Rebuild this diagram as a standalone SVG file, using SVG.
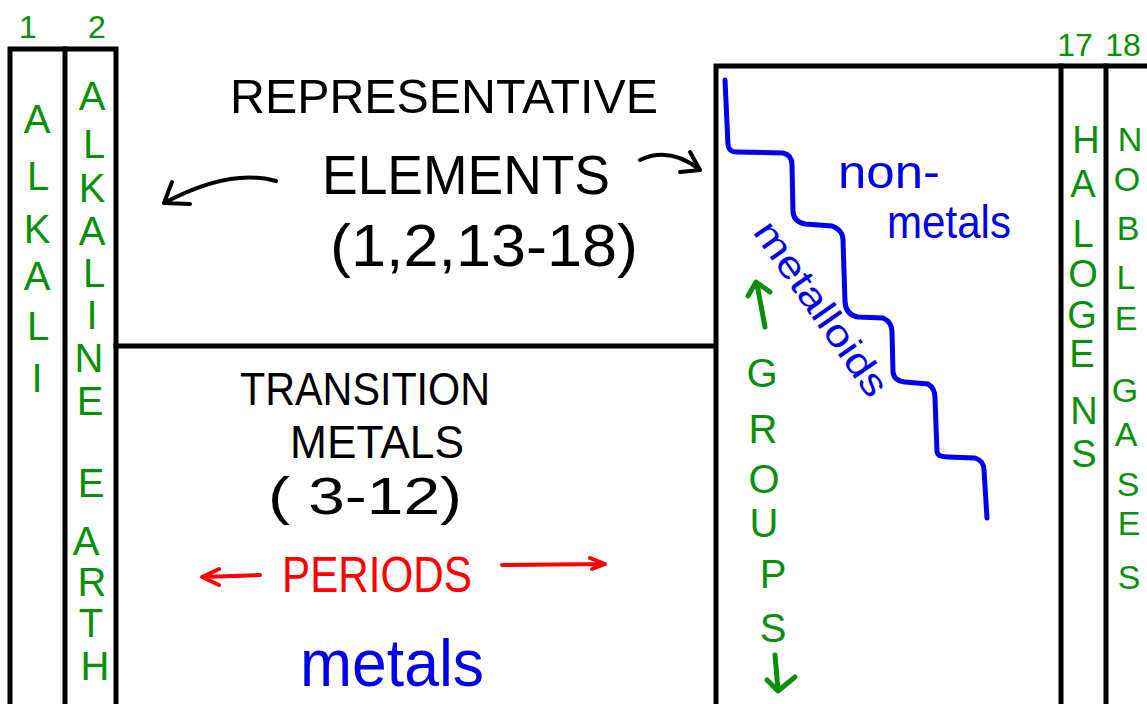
<svg xmlns="http://www.w3.org/2000/svg" width="1147" height="704" viewBox="0 0 1147 704">
<style>
.frame{fill:none;stroke:#000;stroke-width:5;stroke-linecap:square}
.t{font-family:"Liberation Sans",Arial,sans-serif}
.blk{fill:#000}
.grn{fill:#0a8f0a}
.blu{fill:#0000ee}
.red{fill:#ff0000}
.col{font-size:40px;text-anchor:middle}
.ga{fill:none;stroke:#0a8f0a;stroke-width:5;stroke-linecap:round;stroke-linejoin:round}
.ba{fill:none;stroke:#000;stroke-width:4;stroke-linecap:round;stroke-linejoin:round}
.ra{fill:none;stroke:#ff0000;stroke-width:4;stroke-linecap:round;stroke-linejoin:round}
.bl{fill:none;stroke:#0000ee;stroke-width:5;stroke-linecap:round;stroke-linejoin:round}
</style>
<rect width="1147" height="704" fill="#fff"/>

<g id="frame">
<path class="frame" d="M10,706 L10,49 L116,49 L116,706"/>
<path class="frame" d="M65,49 L65,706"/>
<path class="frame" d="M116,346 L714,346"/>
<path class="frame" d="M716,706 L716,66 L1150,66"/>
<path class="frame" d="M1061,66 L1061,706"/>
<path class="frame" d="M1106,66 L1106,706"/>
</g>

<g id="group-numbers" class="t grn" font-size="32">
<text x="28" y="38" text-anchor="middle">1</text>
<text x="97" y="38" text-anchor="middle">2</text>
<text x="1075" y="56" text-anchor="middle">17</text>
<text x="1123" y="56" text-anchor="middle">18</text>
</g>

<g id="alkali">
<text class="t grn col"><tspan x="37" y="133">A</tspan><tspan x="38" y="190">L</tspan><tspan x="37" y="243">K</tspan><tspan x="37" y="290">A</tspan><tspan x="38" y="340">L</tspan><tspan x="37" y="392">I</tspan></text>
</g>

<g id="alkaline-earth">
<text class="t grn col"><tspan x="92" y="110">A</tspan><tspan x="94" y="158">L</tspan><tspan x="92" y="202">K</tspan><tspan x="92" y="245">A</tspan><tspan x="94" y="287">L</tspan><tspan x="92" y="329">I</tspan><tspan x="89" y="372">N</tspan><tspan x="90" y="415">E</tspan><tspan x="91" y="497">E</tspan><tspan x="86" y="555">A</tspan><tspan x="92" y="596">R</tspan><tspan x="91" y="637">T</tspan><tspan x="95" y="680">H</tspan></text>
</g>

<g id="halogens">
<text class="t grn" font-size="38" text-anchor="middle"><tspan x="1086" y="153">H</tspan><tspan x="1083" y="197">A</tspan><tspan x="1083" y="247">L</tspan><tspan x="1083" y="287">O</tspan><tspan x="1082" y="328">G</tspan><tspan x="1082" y="367">E</tspan><tspan x="1084" y="424">N</tspan><tspan x="1084" y="467">S</tspan></text>
</g>

<g id="noble-gases">
<text class="t grn" font-size="34" text-anchor="middle"><tspan x="1130" y="151">N</tspan><tspan x="1127" y="191">O</tspan><tspan x="1128" y="240">B</tspan><tspan x="1126" y="289">L</tspan><tspan x="1126" y="330">E</tspan><tspan x="1125" y="402">G</tspan><tspan x="1126" y="446">A</tspan><tspan x="1128" y="496">S</tspan><tspan x="1129" y="535">E</tspan><tspan x="1129" y="589">S</tspan></text>
</g>

<g id="groups">
<text class="t grn col"><tspan x="762" y="387">G</tspan><tspan x="763" y="443">R</tspan><tspan x="764" y="493">O</tspan><tspan x="764" y="537">U</tspan><tspan x="773" y="588">P</tspan><tspan x="773" y="642">S</tspan></text>
<path class="ga" d="M765,327 L757,284 M748,296 L756,282 L770,292"/>
<path class="ga" d="M775,655 L778,690 M767,680 L778,691 L795,677"/>
</g>

<g id="representative">
<text class="t blk" x="230" y="113" font-size="48" textLength="428" lengthAdjust="spacingAndGlyphs">REPRESENTATIVE</text>
<text class="t blk" x="322" y="194" font-size="56" textLength="288" lengthAdjust="spacingAndGlyphs">ELEMENTS</text>
<text class="t blk" x="330" y="266" font-size="60" textLength="308" lengthAdjust="spacingAndGlyphs">(1,2,13-18)</text>
</g>

<g id="transition">
<text class="t blk" x="240" y="405" font-size="46" textLength="250" lengthAdjust="spacingAndGlyphs">TRANSITION</text>
<text class="t blk" x="290" y="458" font-size="46" textLength="174" lengthAdjust="spacingAndGlyphs">METALS</text>
<text class="t blk" x="268" y="514" font-size="52" textLength="194" lengthAdjust="spacingAndGlyphs">( 3-12)</text>
</g>

<g id="periods">
<text class="t red" x="282" y="592" font-size="50" textLength="190" lengthAdjust="spacingAndGlyphs">PERIODS</text>
</g>

<g id="metals">
<text class="t blu" x="300" y="686" font-size="66" textLength="184" lengthAdjust="spacingAndGlyphs">metals</text>
</g>

<g id="nonmetals">
<text class="t blu" x="838" y="188" font-size="46" textLength="102" lengthAdjust="spacingAndGlyphs">non-</text>
<text class="t blu" x="887" y="238" font-size="46" textLength="124" lengthAdjust="spacingAndGlyphs">metals</text>
</g>

<g id="metalloids">
<text class="t blu" x="0" y="0" font-size="38" textLength="205" lengthAdjust="spacingAndGlyphs" transform="translate(752,232) rotate(55)">metalloids</text>
</g>

<g id="connectors">
<path class="bl" d="M725,80 L728,145 Q729,152 736,152 L783,153 Q792,155 792,165 L793,212 Q794,222 805,224 L832,226 Q843,230 843,240 L845,302 Q846,315 858,317 L883,318 Q892,322 892,332 L893,372 Q894,381 905,382 L928,384 Q935,388 935,398 L937,452 Q938,457 948,457 L975,458 Q984,461 984,470 L987,518"/>
<path class="ba" d="M276,181 Q230,168 164,203 M172,182 L164,203 L190,204"/>
<path class="ba" d="M640,160 Q670,146 700,170 M690,152 L700,170 L680,172"/>
<path class="ra" d="M260,575 L203,577 M219,569 L202,577 L219,585"/>
<path class="ra" d="M502,565 L604,564 M590,558 L605,564 L592,569"/>
</g>
</svg>
